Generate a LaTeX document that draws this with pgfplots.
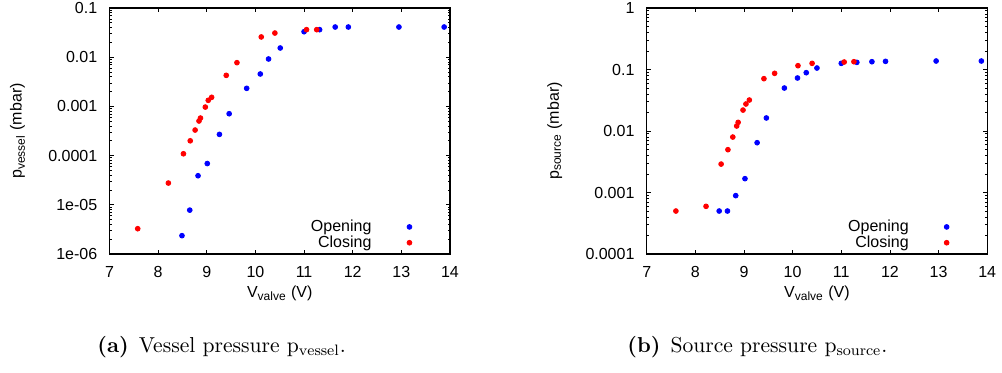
\documentclass[border=0pt]{standalone}
\usepackage{pgfplots}
\pgfplotsset{compat=1.18}
\usepackage{fontspec}
\newfontfamily\arial{Liberation Sans}
\definecolor{gblue}{RGB}{0,0,255}
\definecolor{gred}{RGB}{255,0,0}
\pgfplotsset{
  myax/.style={
    scale only axis, width=170.25pt, height=123pt,
    xmin=7, xmax=14, xtick={7,...,14},
    tick align=inside, major tick length=2.2pt, minor tick length=1.2pt,
    axis line style={line width=0.6pt},
    every tick/.style={black, line width=0.4pt},
    /pgf/number format/assume math mode=true,
    ticklabel style={font=\arial\fontsize{8}{9.6}\selectfont},
    xticklabel style={yshift=-2.8pt},
    yticklabel style={xshift=-2.6pt},
    label style={font=\arial\fontsize{8}{9.6}\selectfont},
    xlabel style={at={(axis description cs:0.5,-0.159)}, anchor=center},
    ylabel style={at={(axis description cs:-0.27,0.5)}, anchor=center},
    xlabel={V\textsubscript{valve} (V)},
    legend plot pos=right,
    legend cell align=right,
    legend image code/.code={\path[draw=none,fill=none] (0pt,0pt) -- (19pt,0pt); \path[##1,only marks,draw=none] plot coordinates {(19pt,0pt)};},
    legend style={draw=none, fill=none, inner sep=0pt, outer sep=0pt,
      column sep=0pt, row sep=0.6pt, nodes={inner sep=0pt},
      font=\arial\fontsize{8}{9.6}\selectfont,
      at={(0.888,0.078)}, anchor=east},
  },
  op/.style={only marks, mark=*, mark size=1.2pt, color=gblue},
  cl/.style={only marks, mark=*, mark size=1.2pt, color=gred},
}
\begin{document}
\begin{tikzpicture}
\useasboundingbox (0,0) rectangle (501pt,186pt);
\begin{axis}[ymode=log, myax, at={(54.75pt,59pt)}, anchor=south west,
  ymin=1e-6, ymax=0.1,
  ytick={1e-6,1e-5,1e-4,1e-3,1e-2,1e-1},
  yticklabels={1e-06,1e-05,0.0001,0.001,0.01,0.1},
  ylabel={p\textsubscript{vessel} (mbar)}]
\addplot[op] coordinates {
(8.49,2.36e-6) (8.65,7.8e-6) (8.82,3.9e-5) (9.01,6.9e-5) (9.26,2.7e-4)
(9.46,7.1e-4) (9.82,2.33e-3) (10.10,4.56e-3) (10.27,9.2e-3) (10.51,0.0154)
(11.00,0.033) (11.32,0.0363) (11.64,0.0411) (11.91,0.0411) (12.95,0.0411) (13.88,0.0411)};
\addlegendentry{Opening}
\addplot[cl] coordinates {
(7.58,3.27e-6) (8.21,2.77e-5) (8.52,1.09e-4) (8.66,2.0e-4) (8.76,3.31e-4)
(8.84,5.05e-4) (8.87,5.8e-4) (8.97,9.7e-4) (9.03,1.33e-3) (9.10,1.53e-3)
(9.40,4.28e-3) (9.62,7.75e-3) (10.12,0.0258) (10.40,0.031) (11.05,0.0363) (11.26,0.0363)};
\addlegendentry{Closing}
\end{axis}
\begin{axis}[ymode=log, myax, at={(323.35pt,59pt)}, anchor=south west,
  ymin=1e-4, ymax=1,
  ytick={1e-4,1e-3,1e-2,1e-1,1},
  yticklabels={0.0001,0.001,0.01,0.1,1},
  ylabel={p\textsubscript{source} (mbar)}]
\addplot[op] coordinates {
(8.49,5.0e-4) (8.66,5.0e-4) (8.83,8.9e-4) (9.02,1.68e-3) (9.27,6.46e-3)
(9.46,0.0163) (9.83,0.050) (10.10,0.0728) (10.28,0.0888) (10.50,0.1057)
(11.00,0.126) (11.32,0.1307) (11.63,0.134) (11.91,0.1358) (12.95,0.1375) (13.88,0.1375)};
\addlegendentry{Opening}
\addplot[cl] coordinates {
(7.60,5.0e-4) (8.22,5.96e-4) (8.53,2.9e-3) (8.67,4.97e-3) (8.77,7.98e-3)
(8.85,0.01206) (8.88,0.01383) (8.98,0.0219) (9.04,0.0275) (9.11,0.0319)
(9.41,0.071) (9.63,0.0867) (10.11,0.1154) (10.40,0.126) (11.06,0.1324) (11.26,0.134)};
\addlegendentry{Closing}
\end{axis}
\node[anchor=base west, inner sep=0pt, font=\fontsize{10.8}{13}\selectfont] at (48.5pt,10pt) {\textbf{(a)}\hspace{5pt}Vessel pressure $\mathrm{p}_{\mathrm{vessel}}$.};
\node[anchor=base west, inner sep=0pt, font=\fontsize{10.8}{13}\selectfont] at (313.5pt,10pt) {\textbf{(b)}\hspace{5pt}Source pressure $\mathrm{p}_{\mathrm{source}}$.};
\end{tikzpicture}
\end{document}
